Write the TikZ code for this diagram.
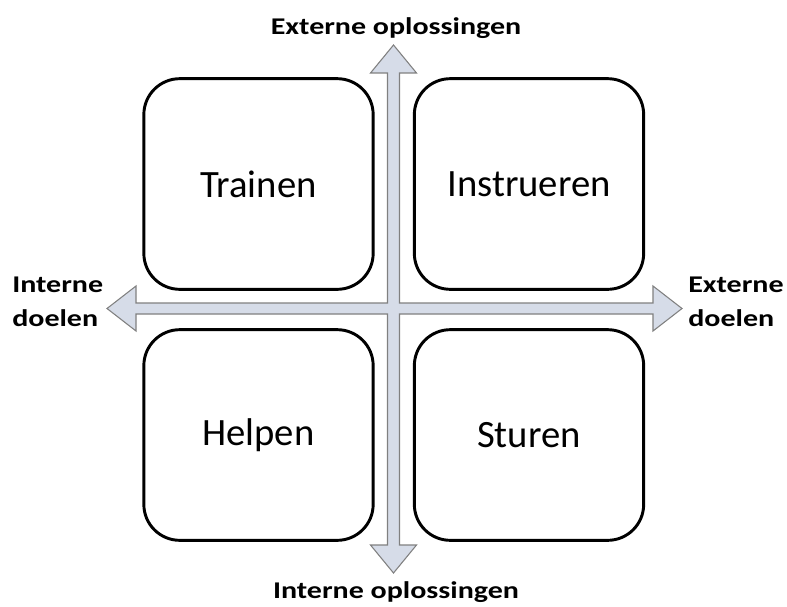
\documentclass[tikz,border=0pt]{standalone}
\usepackage{fontspec}
\setmainfont{Carlito}
\newfontfamily\lblfont[FakeStretch=1.25]{Carlito Bold}
\usepackage{tikz}
\usepackage{xcolor}
\definecolor{axisfill}{RGB}{214,220,232}
\definecolor{axisline}{RGB}{128,128,128}

\begin{document}
\begin{tikzpicture}[x=0.75pt,y=-0.75pt,
		quad/.style={draw=black,line width=2.2pt,rounded corners=27pt,minimum width=172pt,minimum height=158pt,inner sep=0pt,font=\fontsize{29}{34}\selectfont},
		axislabel/.style={inner sep=0pt,font=\lblfont\fontsize{18}{25.5}\selectfont}]
			\useasboundingbox (0,0) rectangle (787,606);
			\coordinate (c) at (393.5,308.5);
			% the four quadrants
			\node[quad] (trainen) at (258.5,184) {Trainen};
			\node[quad] (instrueren) at (529,184) {Instrueren};
			\node[quad] (helpen) at (258.5,435) {Helpen};
			\node[quad] (sturen) at (529,435) {Sturen};
			% the cross of arrows
			\draw[fill=axisfill,draw=axisline,line width=0.8pt,line join=miter]
				(393.5,45) -- (416.5,73) -- (399.5,73) -- (399.5,303) -- (653,303) -- (653,286)
				-- (682,308.5) -- (653,331) -- (653,314) -- (399.5,314) -- (399.5,545)
				-- (416.5,545) -- (393.5,573) -- (370.5,545) -- (387.5,545) -- (387.5,314)
				-- (136,314) -- (136,331) -- (107,308.5) -- (136,286) -- (136,303)
				-- (387.5,303) -- (387.5,73) -- (370.5,73) -- cycle;
			% axis labels
			\node[axislabel,anchor=base] (top) at (396,35) {Externe oplossingen};
			\node[axislabel,anchor=base] (bottom) at (396,598) {Interne oplossingen};
			\node[axislabel,anchor=north west,align=left] (left) at (12,277) {Interne\\doelen};
			\node[axislabel,anchor=north west,align=left] (right) at (688,277) {Externe\\doelen};
		\end{tikzpicture}
\end{document}
